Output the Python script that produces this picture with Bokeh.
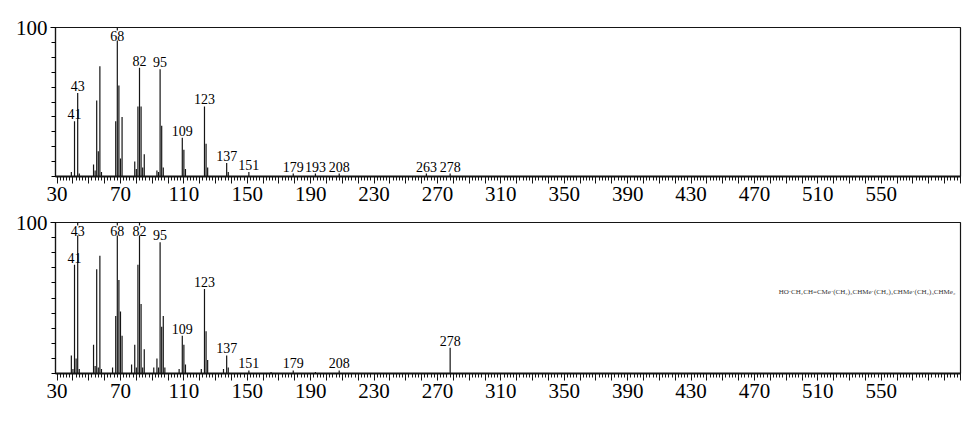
from bokeh.plotting import figure
from bokeh.models import Range1d, FixedTicker
from bokeh.layouts import column
from bokeh.embed import file_html
from bokeh.resources import INLINE
from bokeh.core.properties import value

# ---- data ----
top_mz = [39, 41, 43, 44, 53, 54, 55, 56, 57, 58, 67, 68, 69, 70, 71, 79, 80, 81, 82, 83, 84, 85,
          93, 94, 95, 96, 97, 109, 110, 111, 123, 124, 125, 137, 138, 151, 179, 193, 208, 263, 278]
top_int = [3, 37, 56, 2, 8, 4, 51, 17, 74, 3, 37, 100, 61, 12, 40, 10, 5, 47, 73, 47, 6, 15,
           4, 3, 72, 34, 6, 26, 18, 5, 47, 22, 6, 9, 3, 3, 2, 2, 2, 2, 2]
top_labels = [41, 43, 68, 82, 95, 109, 123, 137, 151, 179, 193, 208, 263, 278]

bot_mz = [39, 40, 41, 42, 43, 44, 53, 54, 55, 56, 57, 58, 65, 67, 68, 69, 70, 71, 77, 79, 80, 81,
          82, 83, 84, 85, 91, 93, 94, 95, 96, 97, 98, 107, 109, 110, 111, 121, 123, 124, 125,
          135, 137, 138, 151, 165, 179, 193, 208, 278]
bot_int = [12, 3, 72, 10, 100, 3, 19, 5, 69, 4, 78, 3, 4, 38, 100, 62, 41, 25, 6, 19, 4, 72,
           100, 46, 4, 16, 4, 10, 4, 87, 31, 38, 4, 3, 25, 19, 6, 3, 56, 28, 9,
           3, 12, 4, 2, 1, 2, 1, 2, 17]
bot_labels = [41, 43, 68, 82, 95, 109, 123, 137, 151, 179, 208, 278]

x_tick_labels = [30, 70, 110, 150, 190, 230, 270, 310, 350, 390, 430, 470, 510, 550]
formula = "HO·CH₂CH=CMe·(CH₂)₃CHMe·(CH₂)₃CHMe·(CH₂)₃CHMe₂"
formula_pos = (541, 54)

SERIF = "Liberation Serif"
INK = "#151515"


def make_panel(mz, inten, labels, height, border_top, border_bottom, note=None):
    p = figure(width=977, height=height, x_range=Range1d(29, 600), y_range=Range1d(0, 100),
               output_backend="svg", toolbar_location=None,
               min_border_left=55, min_border_right=17,
               min_border_top=border_top, min_border_bottom=border_bottom)
    p.grid.visible = False
    p.outline_line_color = INK
    p.outline_line_width = 1.2
    p.background_fill_color = "white"
    p.border_fill_color = "white"

    p.segment(x0=mz, y0=[0] * len(mz), x1=mz, y1=inten, line_color=INK, line_width=1.2)

    lookup = dict(zip(mz, inten))
    hi_x = [m for m in labels if lookup[m] >= 95]
    lo_x = [m for m in labels if lookup[m] < 95]
    lo_y = [lookup[m] for m in lo_x]
    p.text(x=lo_x, y=lo_y, text=[str(m) for m in lo_x], text_font=value(SERIF),
           text_font_size="14px", text_align="center", text_baseline="bottom",
           text_color="black", y_offset=-2)
    if hi_x:
        p.text(x=hi_x, y=[100] * len(hi_x), text=[str(m) for m in hi_x], text_font=value(SERIF),
               text_font_size="14px", text_align="center", text_baseline="top",
               text_color="black", y_offset=3, background_fill_color="white")
    if note:
        p.text(x=[formula_pos[0]], y=[formula_pos[1]], text=[note], text_font=value(SERIF),
               text_font_size="7px", text_align="center", text_baseline="middle",
               text_color="#333333")

    xa = p.xaxis[0]
    xa.ticker = FixedTicker(ticks=list(range(30, 601, 10)), minor_ticks=list(range(30, 601, 2)))
    xa.major_label_overrides = {t: ("" if t not in x_tick_labels else str(t))
                                for t in range(30, 601, 10)}
    xa.major_tick_in = 0
    xa.major_tick_out = 7
    xa.minor_tick_in = 0
    xa.minor_tick_out = 4
    xa.axis_line_width = 1.8
    xa.axis_line_color = INK
    xa.major_tick_line_color = INK
    xa.minor_tick_line_color = INK
    xa.major_label_standoff = 3
    xa.major_label_text_font = SERIF
    xa.major_label_text_font_size = "21px"
    xa.major_label_text_color = "black"

    ya = p.yaxis[0]
    ya.ticker = FixedTicker(ticks=[100], minor_ticks=list(range(0, 101, 10)))
    ya.major_tick_in = 0
    ya.major_tick_out = 5
    ya.minor_tick_in = 0
    ya.minor_tick_out = 4
    ya.axis_line_color = INK
    ya.axis_line_width = 1.2
    ya.major_label_standoff = 3
    ya.major_label_text_font = SERIF
    ya.major_label_text_font_size = "21px"
    ya.major_label_text_color = "black"
    return p


top = make_panel(top_mz, top_int, top_labels, 210, 27, 34)
bottom = make_panel(bot_mz, bot_int, bot_labels, 221, 12, 58, note=formula)

layout = column(top, bottom, spacing=0)
open("out.html", "w").write(file_html(layout, INLINE))
